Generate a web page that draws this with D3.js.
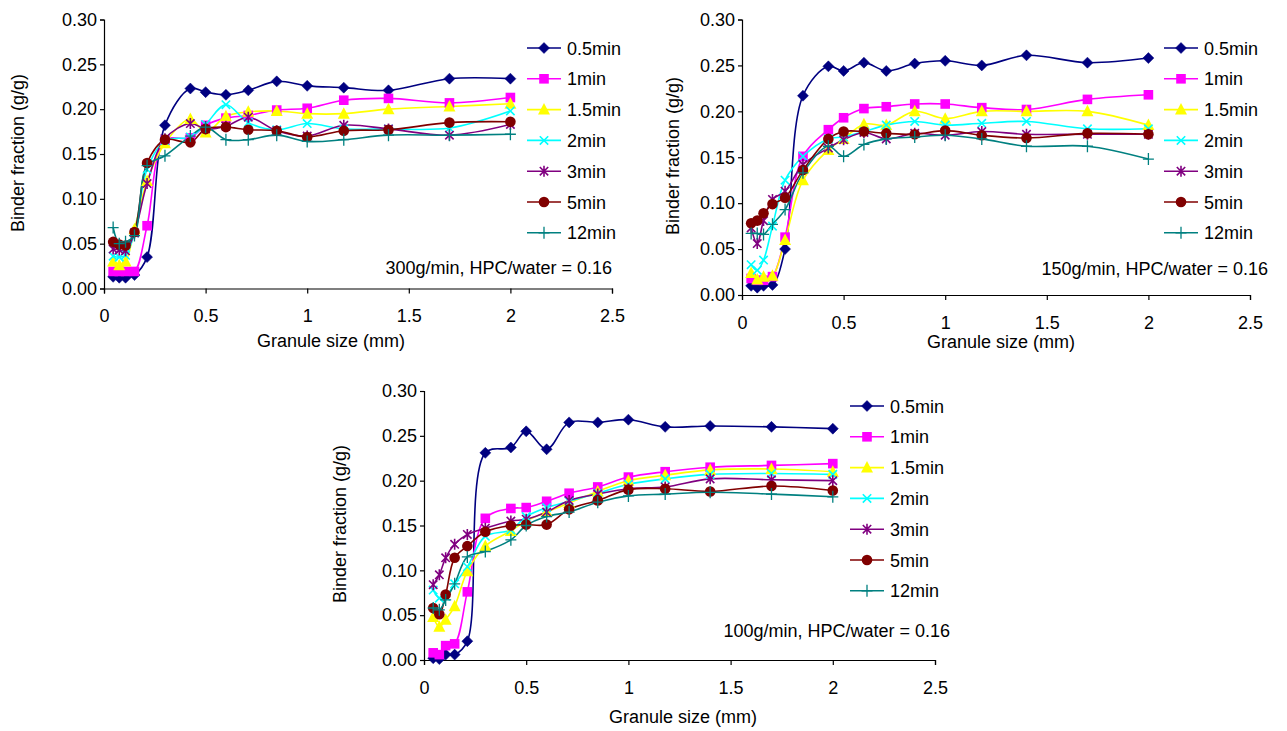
<!DOCTYPE html>
<html>
<head>
<meta charset="utf-8">
<script src="https://cdn.jsdelivr.net/npm/d3@7"></script>
<style>
  html, body { margin: 0; padding: 0; background: #fff; }
  svg text { font-family: "Liberation Sans", Arial, sans-serif; fill: #000; }
</style>
</head>
<body>
<svg id="chart" width="1287" height="731"></svg>
<script>
// ---------- DATA ----------
const granuleSizes = [0.045, 0.075, 0.106, 0.15, 0.212, 0.3, 0.425, 0.5, 0.6, 0.71, 0.85, 1.0, 1.18, 1.4, 1.7, 2.0];
const seriesNames = ["0.5min", "1min", "1.5min", "2min", "3min", "5min", "12min"];
const yTicks = [0, 0.05, 0.10, 0.15, 0.20, 0.25, 0.30];
const xTicks = [0, 0.5, 1, 1.5, 2, 2.5];
const panelNotes = ["300g/min, HPC/water = 0.16", "150g/min, HPC/water = 0.16", "100g/min, HPC/water = 0.16"];

// 300 g/min
const r300_t05 = [0.013, 0.012, 0.012, 0.015, 0.035, 0.182, 0.223, 0.219, 0.216, 0.221, 0.231, 0.226, 0.224, 0.221, 0.234, 0.234];
const r300_t1  = [0.019, 0.019, 0.019, 0.019, 0.070, 0.165, 0.168, 0.182, 0.190, 0.193, 0.199, 0.201, 0.210, 0.212, 0.207, 0.213];
const r300_t15 = [0.030, 0.026, 0.030, 0.066, 0.120, 0.162, 0.189, 0.174, 0.192, 0.197, 0.198, 0.195, 0.195, 0.200, 0.203, 0.206];
const r300_t2  = [0.036, 0.035, 0.037, 0.062, 0.133, 0.165, 0.169, 0.183, 0.205, 0.185, 0.177, 0.184, 0.178, 0.178, 0.179, 0.198];
const r300_t3  = [0.044, 0.043, 0.042, 0.062, 0.117, 0.167, 0.184, 0.178, 0.181, 0.191, 0.176, 0.170, 0.182, 0.178, 0.171, 0.183];
const r300_t5  = [0.052, 0.049, 0.048, 0.063, 0.140, 0.166, 0.163, 0.178, 0.180, 0.177, 0.176, 0.169, 0.176, 0.177, 0.185, 0.186];
const r300_t12 = [0.068, 0.050, 0.052, 0.059, 0.137, 0.148, 0.170, 0.180, 0.166, 0.166, 0.171, 0.164, 0.166, 0.171, 0.171, 0.172];

// 150 g/min
const r150_t05 = [0.010, 0.008, 0.010, 0.011, 0.050, 0.217, 0.249, 0.244, 0.253, 0.244, 0.252, 0.255, 0.250, 0.261, 0.253, 0.258];
const r150_t1  = [0.018, 0.016, 0.016, 0.020, 0.063, 0.151, 0.180, 0.193, 0.203, 0.205, 0.208, 0.208, 0.204, 0.202, 0.213, 0.218];
const r150_t15 = [0.024, 0.017, 0.020, 0.021, 0.060, 0.125, 0.158, 0.170, 0.186, 0.185, 0.200, 0.192, 0.200, 0.200, 0.200, 0.185];
const r150_t2  = [0.033, 0.027, 0.038, 0.075, 0.125, 0.151, 0.170, 0.172, 0.178, 0.185, 0.189, 0.185, 0.187, 0.189, 0.181, 0.181];
const r150_t3  = [0.073, 0.056, 0.081, 0.104, 0.113, 0.142, 0.160, 0.169, 0.177, 0.170, 0.176, 0.174, 0.178, 0.175, 0.175, 0.175];
const r150_t5  = [0.078, 0.081, 0.089, 0.099, 0.106, 0.136, 0.170, 0.178, 0.178, 0.176, 0.175, 0.179, 0.174, 0.171, 0.176, 0.175];
const r150_t12 = [0.067, 0.067, 0.066, 0.077, 0.093, 0.133, 0.162, 0.151, 0.164, 0.170, 0.172, 0.174, 0.170, 0.162, 0.162, 0.148];

// 100 g/min
const r100_t05 = [0.002, 0.001, 0.006, 0.006, 0.021, 0.231, 0.237, 0.255, 0.235, 0.265, 0.265, 0.268, 0.260, 0.261, 0.260, 0.258];
const r100_t1  = [0.008, 0.006, 0.016, 0.018, 0.076, 0.158, 0.169, 0.170, 0.177, 0.186, 0.193, 0.204, 0.210, 0.215, 0.217, 0.219];
const r100_t15 = [0.048, 0.037, 0.045, 0.060, 0.099, 0.127, 0.144, 0.155, 0.165, 0.175, 0.188, 0.200, 0.206, 0.212, 0.213, 0.210];
const r100_t2  = [0.078, 0.069, 0.071, 0.085, 0.104, 0.138, 0.145, 0.160, 0.170, 0.177, 0.186, 0.196, 0.202, 0.207, 0.208, 0.207];
const r100_t3  = [0.084, 0.095, 0.114, 0.129, 0.140, 0.147, 0.155, 0.157, 0.165, 0.178, 0.185, 0.191, 0.193, 0.202, 0.201, 0.200];
const r100_t5  = [0.058, 0.051, 0.073, 0.114, 0.127, 0.143, 0.150, 0.151, 0.151, 0.168, 0.178, 0.190, 0.191, 0.188, 0.194, 0.189];
const r100_t12 = [0.058, 0.056, 0.067, 0.085, 0.115, 0.121, 0.134, 0.150, 0.160, 0.165, 0.176, 0.183, 0.185, 0.187, 0.185, 0.182];

// ---------- STYLE ----------
const seriesColors = ["#000080", "#FF00FF", "#FFFF00", "#00FFFF", "#800080", "#800000", "#008080"];
const seriesMarkers = ["diamond", "square", "triangle", "x", "star", "circle", "plus"];

const panels = [
  { series: [r300_t05, r300_t1, r300_t15, r300_t2, r300_t3, r300_t5, r300_t12],
    left: 104, right: 612, top: 19.5, bottom: 288.5,
    legX: 527, legY: 48, noteX: 612, noteY: 267, yTitleX: 24, yTitleY: 153, xTitleX: 331, xTitleY: 347 },
  { series: [r150_t05, r150_t1, r150_t15, r150_t2, r150_t3, r150_t5, r150_t12],
    left: 742, right: 1250, top: 19.5, bottom: 295,
    legX: 1164, legY: 48, noteX: 1268, noteY: 268, yTitleX: 679, yTitleY: 156, xTitleX: 1001, xTitleY: 348 },
  { series: [r100_t05, r100_t1, r100_t15, r100_t2, r100_t3, r100_t5, r100_t12],
    left: 424, right: 935, top: 391, bottom: 660,
    legX: 850, legY: 406, noteX: 950, noteY: 630, yTitleX: 346, yTitleY: 524, xTitleX: 683, xTitleY: 723 }
];

const svg = d3.select("#chart");
const FS = 18;

function drawMarker(g, type, color) {
  const r = 5.5;
  if (type === "diamond") {
    g.append("path").attr("d", `M0,${-r}L${r},0L0,${r}L${-r},0Z`).attr("fill", color).attr("stroke", color).attr("stroke-width", 0.5);
  } else if (type === "square") {
    g.append("rect").attr("x", -4.8).attr("y", -4.8).attr("width", 9.6).attr("height", 9.6).attr("fill", color);
  } else if (type === "triangle") {
    g.append("path").attr("d", `M0,-6.5L6,5L-6,5Z`).attr("fill", color);
  } else if (type === "x") {
    g.append("path").attr("d", "M-4.2,-4.2L4.2,4.2M-4.2,4.2L4.2,-4.2").attr("stroke", color).attr("stroke-width", 1.6).attr("fill", "none");
  } else if (type === "star") {
    g.append("path").attr("d", "M-4.2,-4.2L4.2,4.2M-4.2,4.2L4.2,-4.2M0,-5.5L0,5.5").attr("stroke", color).attr("stroke-width", 1.6).attr("fill", "none");
  } else if (type === "circle") {
    g.append("circle").attr("r", 5.3).attr("fill", color);
  } else if (type === "plus") {
    g.append("path").attr("d", "M-5.5,0L5.5,0M0,-6L0,6").attr("stroke", color).attr("stroke-width", 1.3).attr("fill", "none");
  }
}

panels.forEach((p, pi) => {
  const x = d3.scaleLinear().domain([0, 2.5]).range([p.left, p.right]);
  const y = d3.scaleLinear().domain([0, 0.30]).range([p.bottom, p.top]);
  const g = svg.append("g");

  // Axes
  const yAxis = d3.axisLeft(y).tickValues(yTicks).tickFormat(d3.format(".2f")).tickSize(4).tickPadding(3);
  const xAxis = d3.axisBottom(x).tickValues(xTicks).tickFormat(d => String(d)).tickSize(5).tickPadding(16);
  const ya = g.append("g").attr("transform", `translate(${p.left},0)`).call(yAxis);
  const xa = g.append("g").attr("transform", `translate(0,${p.bottom})`).call(xAxis);
  [ya, xa].forEach(a => {
    a.select(".domain").attr("stroke", "#000").attr("stroke-width", 1.2);
    a.selectAll(".tick line").attr("stroke", "#000").attr("stroke-width", 1.2);
    a.selectAll(".tick text").attr("font-size", FS).attr("font-family", '"Liberation Sans", Arial, sans-serif').attr("fill", "#000");
  });

  // Axis titles
  g.append("text").attr("x", p.xTitleX).attr("y", p.xTitleY).attr("text-anchor", "middle")
    .attr("font-size", FS).text("Granule size (mm)");
  g.append("text").attr("transform", `translate(${p.yTitleX},${p.yTitleY}) rotate(-90)`).attr("text-anchor", "middle")
    .attr("font-size", FS).text("Binder fraction (g/g)");

  // Series
  const line = d3.line().x(d => x(d[0])).y(d => y(d[1])).curve(d3.curveCatmullRom.alpha(0.5));
  p.series.forEach((vals, si) => {
    const pts = granuleSizes.map((s, i) => [s, vals[i]]);
    g.append("path").datum(pts).attr("d", line).attr("fill", "none")
      .attr("stroke", seriesColors[si]).attr("stroke-width", 1.6);
  });
  p.series.forEach((vals, si) => {
    granuleSizes.forEach((s, i) => {
      const mg = g.append("g").attr("transform", `translate(${x(s)},${y(vals[i])})`);
      drawMarker(mg, seriesMarkers[si], seriesColors[si]);
    });
  });

  // Legend
  seriesNames.forEach((name, si) => {
    const ly = p.legY + si * 30.8;
    g.append("line").attr("x1", p.legX).attr("x2", p.legX + 34).attr("y1", ly).attr("y2", ly)
      .attr("stroke", seriesColors[si]).attr("stroke-width", 1.6);
    const mg = g.append("g").attr("transform", `translate(${p.legX + 17},${ly})`);
    drawMarker(mg, seriesMarkers[si], seriesColors[si]);
    g.append("text").attr("x", p.legX + 40).attr("y", ly + 6.5).attr("font-size", FS).text(name);
  });

  // Note
  g.append("text").attr("x", p.noteX).attr("y", p.noteY + 6.5).attr("text-anchor", "end")
    .attr("font-size", FS).text(panelNotes[pi]);
});
</script>
</body>
</html>
